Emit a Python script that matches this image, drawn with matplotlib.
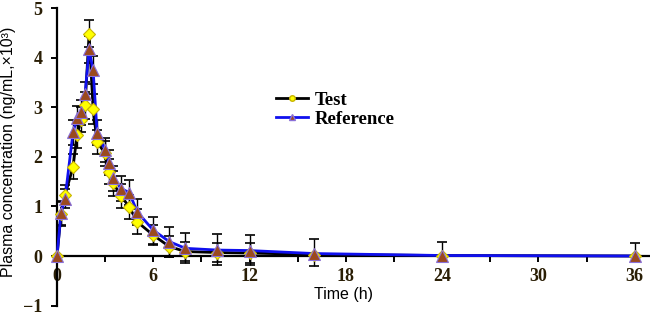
import matplotlib
matplotlib.use("Agg")
import matplotlib.pyplot as plt
from matplotlib.ticker import MultipleLocator

# sampling times (h)
time = [0, 0.25, 0.5, 1.0, 1.25, 1.5, 1.75, 2.0, 2.25, 2.5, 3.0, 3.25, 3.5,
        4.0, 4.5, 5, 6, 7, 8, 10, 12, 16, 24, 36]

# mean plasma concentration (ng/mL x10^3)
test_mean = [0, 0.85, 1.23, 1.8, 2.44, 2.75, 3.04, 4.49, 2.96, 2.3, 2.07, 1.7,
             1.47, 1.21, 0.99, 0.69, 0.42, 0.19, 0.09, 0.07, 0.06, 0.03, 0.01, 0]
ref_mean = [0, 0.87, 1.16, 2.5, 2.78, 2.9, 3.27, 4.17, 3.75, 2.49, 2.14, 1.88,
            1.57, 1.36, 1.28, 0.89, 0.52, 0.29, 0.155, 0.12, 0.11, 0.05, 0.01, 0]

# standard deviations
test_sd = [0, 0.25, 0.2, 0.25, 0.25, 0.25, 0.27, 0.27, 0.3, 0.25, 0.25, 0.25,
           0.25, 0.25, 0.25, 0.25, 0.2, 0.22, 0.2, 0.2, 0.2, 0, 0, 0]
ref_sd_lo = [0, 0.25, 0.2, 0.25, 0.25, 0.25, 0.25, 0.28, 0.28, 0.25, 0.25, 0.25,
             0.25, 0.25, 0.25, 0.27, 0.27, 0.3, 0.3, 0.3, 0.3, 0.25, 0, 0]
ref_sd_hi = [0, 0.25, 0.2, 0.25, 0.25, 0.25, 0.25, 0.28, 0.28, 0.25, 0.25, 0.25,
             0.25, 0.25, 0.25, 0.27, 0.27, 0.3, 0.3, 0.32, 0.31, 0.29, 0.28, 0.27]

xticks = [0, 6, 12, 18, 24, 30, 36]
yticks = [-1, 0, 1, 2, 3, 4, 5]

serif = ["Liberation Serif", "DejaVu Serif"]
sans = ["Liberation Sans", "DejaVu Sans"]
tick_color = "#2a1e05"

fig = plt.figure(figsize=(6.5, 3.15), dpi=100)
ax = fig.add_axes([0.0877, 0.030, 0.9123, 0.9437])

ax.errorbar(time, test_mean, yerr=test_sd, fmt="none", ecolor="black",
            elinewidth=1.0, capsize=3.4, capthick=1.2, zorder=2, clip_on=False)
ax.errorbar(time, ref_mean, yerr=[ref_sd_lo, ref_sd_hi], fmt="none", ecolor="black",
            elinewidth=1.0, capsize=3.4, capthick=1.2, zorder=2, clip_on=False)

ax.plot(time, test_mean, color="black", lw=2.0, zorder=3, clip_on=False)
ax.plot(time, ref_mean, color="#1010ee", lw=2.0, zorder=4, clip_on=False)
ax.plot(time, test_mean, ls="none", marker="D", ms=6, mfc="#ffff00",
        mec="#c8b400", mew=0.8, zorder=5, clip_on=False)
ax.plot(time, ref_mean, ls="none", marker="^", ms=8, mfc="#9b4a1e",
        mec="#8a70d8", mew=0.8, zorder=6, clip_on=False)

# legend handles
ax.plot([], [], color="black", lw=2.0, marker="o", ms=4, mfc="#ffff00",
        mec="#c8b400", label="Test")
ax.plot([], [], color="#1010ee", lw=2.0, marker="^", ms=5, mfc="#9b4a1e",
        mec="#8a70d8", label="Reference")
leg = ax.legend(loc="upper left", bbox_to_anchor=(259 / 650, 1 - 75 / 315),
                bbox_transform=fig.transFigure, frameon=False,
                prop={"family": serif, "weight": "bold", "size": 13.5},
                handlelength=1.7, handletextpad=0.35, labelspacing=0.1)

ax.set_xlim(0, 36.95)
ax.set_ylim(-1, 5)
ax.spines["top"].set_visible(False)
ax.spines["right"].set_visible(False)
ax.spines["bottom"].set_position(("data", 0))
for s in ("left", "bottom"):
    ax.spines[s].set_linewidth(1.6)

ax.set_xticks(xticks)
ax.xaxis.set_minor_locator(MultipleLocator(3))
ax.set_yticks(yticks)
ax.tick_params(axis="both", which="both", direction="out", length=4.5,
               width=1.4, colors="black")
ax.tick_params(axis="x", pad=4)
ax.tick_params(axis="y", pad=6)
for lab in ax.get_xticklabels() + ax.get_yticklabels():
    lab.set_fontfamily(serif)
    lab.set_fontweight("bold")
    lab.set_fontsize(13)
    lab.set_color(tick_color)

fig.text(343 / 650, 1 - 294 / 315, "Time (h)", ha="center", va="center",
         family=sans, fontsize=11.5)
fig.text(9 / 650, 1 - 152 / 315, "Plasma concentration (ng/mL,×10³)",
         ha="center", va="center", rotation=90, family=sans, fontsize=11.5)

fig.savefig("out.png", dpi=100)
